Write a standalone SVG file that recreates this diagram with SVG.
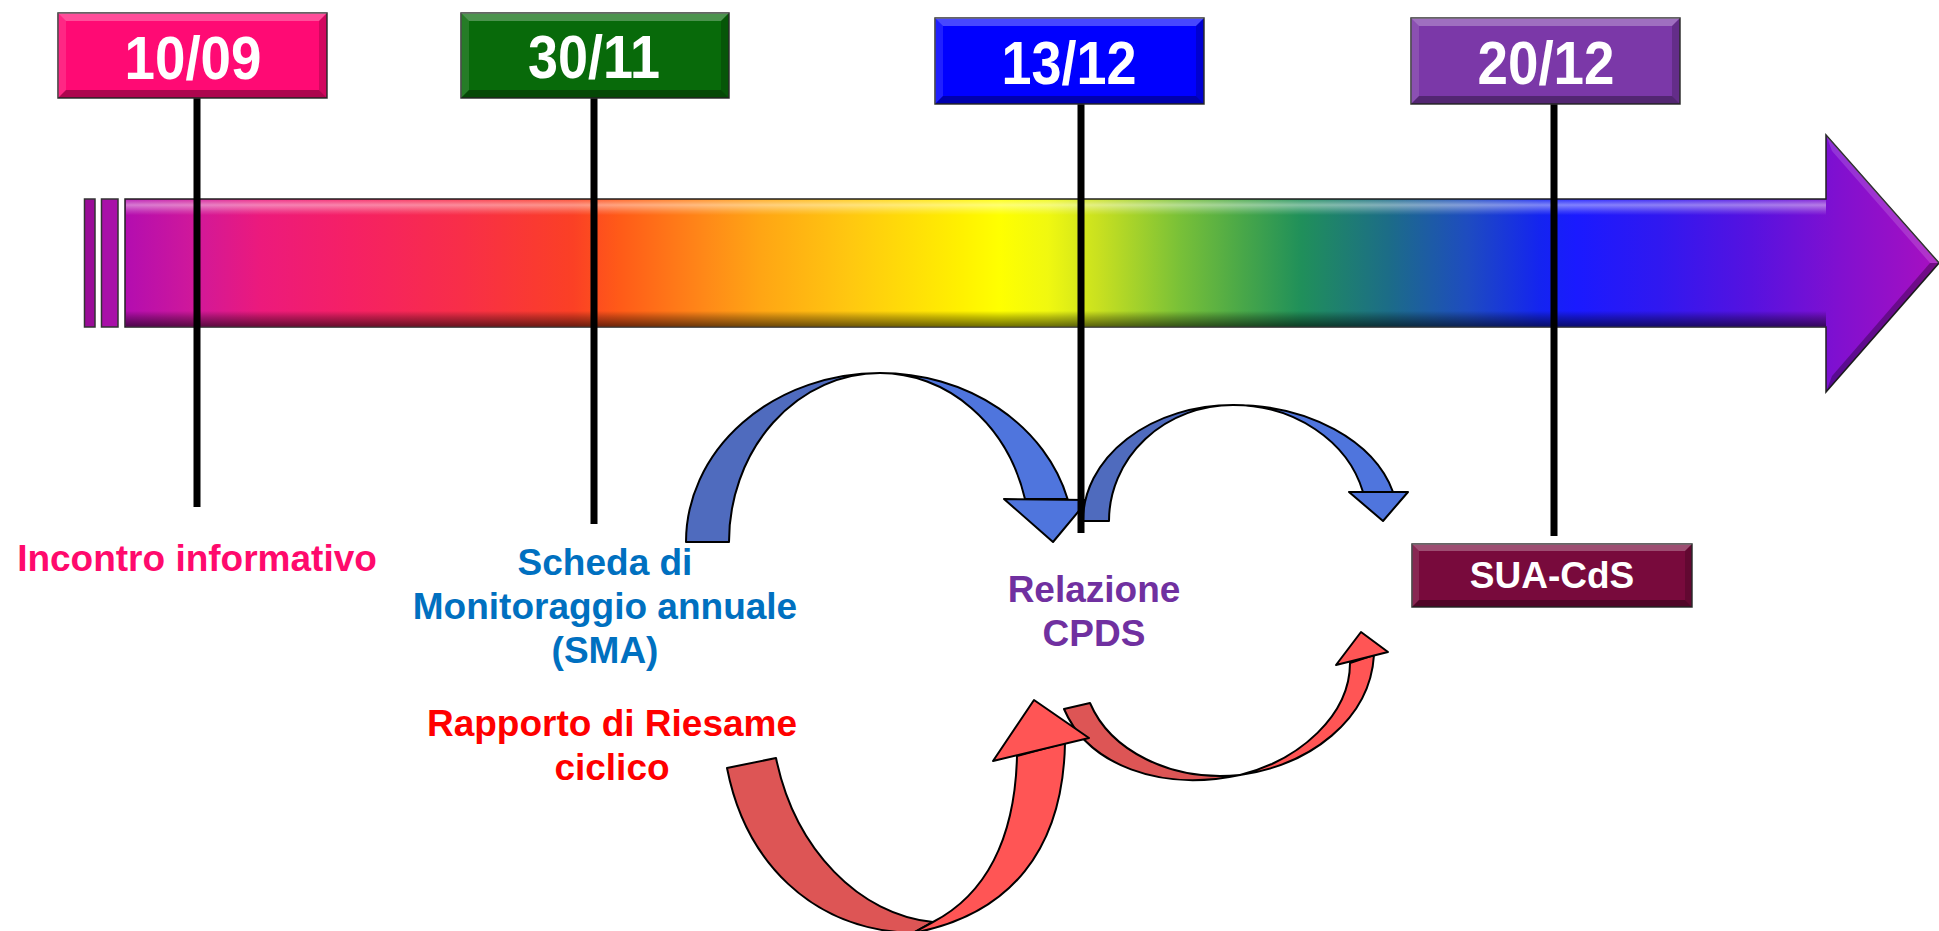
<svg xmlns="http://www.w3.org/2000/svg" width="1939" height="931" viewBox="0 0 1939 931">
<style>
.date{font-family:"Liberation Sans",Arial,sans-serif;font-weight:bold;font-size:62px;fill:#fff;text-anchor:middle}
.lbl{font-family:"Liberation Sans",Arial,sans-serif;font-weight:bold;font-size:37px;text-anchor:middle}
.vline{stroke:#000;stroke-width:7;fill:none}
.box{stroke:#333;stroke-width:1.5}
.bt{fill:#fff;fill-opacity:.28}
.bl{fill:#fff;fill-opacity:.12}
.br{fill:#000;fill-opacity:.18}
.bb{fill:#000;fill-opacity:.32}
.rib{stroke:#000;stroke-width:2;stroke-linejoin:round}
.bd{fill:#4F6BBE}
.bl2{fill:#4F75DD}
.rd{fill:#DD5555}
.rl{fill:#FF5555}
</style>
<defs>
<linearGradient id="rainbow" gradientUnits="userSpaceOnUse" x1="125" y1="0" x2="1939" y2="0">
<stop offset="0" stop-color="#B30DB0"/>
<stop offset="0.038" stop-color="#D0189A"/>
<stop offset="0.075" stop-color="#EC1A7C"/>
<stop offset="0.124" stop-color="#F52065"/>
<stop offset="0.186" stop-color="#F82E48"/>
<stop offset="0.247" stop-color="#FB4025"/>
<stop offset="0.272" stop-color="#FF5A18"/>
<stop offset="0.321" stop-color="#FF8A18"/>
<stop offset="0.35" stop-color="#FFA514"/>
<stop offset="0.40" stop-color="#FFC810"/>
<stop offset="0.46" stop-color="#FFF000"/>
<stop offset="0.482" stop-color="#FFFF00"/>
<stop offset="0.509" stop-color="#F0F810"/>
<stop offset="0.537" stop-color="#C8E020"/>
<stop offset="0.582" stop-color="#78C038"/>
<stop offset="0.615" stop-color="#4AA848"/>
<stop offset="0.648" stop-color="#20905A"/>
<stop offset="0.697" stop-color="#1C6C88"/>
<stop offset="0.74" stop-color="#1E4CC0"/>
<stop offset="0.78" stop-color="#1424F0"/>
<stop offset="0.80" stop-color="#1A1AFF"/>
<stop offset="0.846" stop-color="#3018F0"/>
<stop offset="0.895" stop-color="#5512E0"/>
<stop offset="0.944" stop-color="#8010D0"/>
<stop offset="1" stop-color="#A810C0"/>
</linearGradient>
<linearGradient id="shade" x1="0" y1="0" x2="0" y2="1">
<stop offset="0" stop-color="#fff" stop-opacity="0.15"/>
<stop offset="0.04" stop-color="#fff" stop-opacity="0.45"/>
<stop offset="0.09" stop-color="#fff" stop-opacity="0.15"/>
<stop offset="0.12" stop-color="#fff" stop-opacity="0"/>
<stop offset="0.88" stop-color="#000" stop-opacity="0"/>
<stop offset="0.93" stop-color="#000" stop-opacity="0.25"/>
<stop offset="1" stop-color="#000" stop-opacity="0.55"/>
</linearGradient>
</defs>

<g id="timeline">
<rect x="84.5" y="199" width="10.5" height="128" fill="#9A0C98" stroke="#333" stroke-width="1.5"/>
<rect x="101.5" y="199" width="16.5" height="128" fill="#A810A8" stroke="#333" stroke-width="1.5"/>
<path d="M125,199 L1826,199 L1826,135 L1939,263 L1826,392 L1826,327 L125,327 Z" fill="url(#rainbow)" stroke="#222" stroke-width="1.5"/>
<rect x="126" y="200" width="1700" height="126" fill="url(#shade)"/>
<path d="M1826,135 L1939,263 L1930,263 L1832,151 Z" fill="#fff" fill-opacity="0.15"/>
<path d="M1826,392 L1939,263 L1930,263 L1832,376 Z" fill="#000" fill-opacity="0.3"/>
</g>

<g id="connectors">
<path class="rib bd" d="M686,542 A194 169 0 0 1 880 373 A151 169 0 0 0 729 542 Z"/>
<path class="rib bl2" d="M880,373 A194 169 0 0 1 1067.6 499 L1025 499 A150 169 0 0 0 880 373 Z"/>
<path class="rib bl2" d="M1004,499 L1088,500 L1053,542 Z"/>
<path class="rib bd" d="M1083,521 A150 116 0 0 1 1233 405 A124 116 0 0 0 1109 521 Z"/>
<path class="rib bl2" d="M1233,405 A165 116 0 0 1 1393 492 L1363 492 A134 116 0 0 0 1233 405 Z"/>
<path class="rib bl2" d="M1349,492 L1408,492 L1383,521 Z"/>
<path class="rib rd" d="M1064,709 C1088,765 1160,792 1240,775 C1170,782 1110,750 1090,703 Z"/>
<path class="rib rl" d="M1240,775 C1310,765 1370,720 1374,655 L1350,663 C1350,715 1300,760 1240,775 Z"/>
<path class="rib rl" d="M1336,665 L1361,632 L1388,652 Z"/>
<path class="rib rd" d="M727,768 C745,860 810,930 913,933 L933,922 C860,915 795,850 776,758 Z"/>
<path class="rib rl" d="M913,933 C1010,915 1063,850 1065,743 L1017,756 C1015,840 985,895 933,922 Z"/>
<path class="rib rl" d="M993,761 L1034,700 L1089,738 Z"/>
<line class="vline" x1="197" y1="98" x2="197" y2="507"/>
<line class="vline" x1="594" y1="98" x2="594" y2="524"/>
<line class="vline" x1="1081" y1="104" x2="1081" y2="533"/>
<line class="vline" x1="1554" y1="104" x2="1554" y2="536"/>
</g>

<g id="d1009">
<rect class="box" x="58" y="13" width="269" height="85" fill="#FF0A74"/>
<polygon class="bt" points="58,13 327,13 319,21 66,21"/>
<polygon class="bl" points="58,13 66,21 66,90 58,98"/>
<polygon class="br" points="327,13 319,21 319,90 327,98"/>
<polygon class="bb" points="58,98 327,98 319,90 66,90"/>
<text class="date" x="193" y="79" textLength="137" lengthAdjust="spacingAndGlyphs">10/09</text>
</g>
<g id="d3011">
<rect class="box" x="461" y="13" width="268" height="85" fill="#086A0A"/>
<polygon class="bt" points="461,13 729,13 721,21 469,21"/>
<polygon class="bl" points="461,13 469,21 469,90 461,98"/>
<polygon class="br" points="729,13 721,21 721,90 729,98"/>
<polygon class="bb" points="461,98 729,98 721,90 469,90"/>
<text class="date" x="594" y="78" textLength="132" lengthAdjust="spacingAndGlyphs">30/11</text>
</g>
<g id="d1312">
<rect class="box" x="935" y="18" width="269" height="86" fill="#0000FF"/>
<polygon class="bt" points="935,18 1204,18 1196,26 943,26"/>
<polygon class="bl" points="935,18 943,26 943,96 935,104"/>
<polygon class="br" points="1204,18 1196,26 1196,96 1204,104"/>
<polygon class="bb" points="935,104 1204,104 1196,96 943,96"/>
<text class="date" x="1069" y="84" textLength="135" lengthAdjust="spacingAndGlyphs">13/12</text>
</g>
<g id="d2012">
<rect class="box" x="1411" y="18" width="269" height="86" fill="#7B38A8"/>
<polygon class="bt" points="1411,18 1680,18 1672,26 1419,26"/>
<polygon class="bl" points="1411,18 1419,26 1419,96 1411,104"/>
<polygon class="br" points="1680,18 1672,26 1672,96 1680,104"/>
<polygon class="bb" points="1411,104 1680,104 1672,96 1419,96"/>
<text class="date" x="1546" y="84" textLength="137" lengthAdjust="spacingAndGlyphs">20/12</text>
</g>

<g id="incontro">
<text class="lbl" x="197" y="571" fill="#FF0A6C">Incontro informativo</text>
</g>
<g id="sma">
<text class="lbl" fill="#0070C0"><tspan x="605" y="575">Scheda di</tspan><tspan x="605" y="619">Monitoraggio annuale</tspan><tspan x="605" y="663">(SMA)</tspan></text>
</g>
<g id="riesame">
<text class="lbl" fill="#FF0000"><tspan x="612" y="736">Rapporto di Riesame</tspan><tspan x="612" y="780">ciclico</tspan></text>
</g>
<g id="cpds">
<text class="lbl" fill="#7030A0"><tspan x="1094" y="602">Relazione</tspan><tspan x="1094" y="646">CPDS</tspan></text>
</g>
<g id="sua">
<rect class="box" x="1412" y="544" width="280" height="63" fill="#780A3C"/>
<polygon class="bt" points="1412,544 1692,544 1685,551 1419,551"/>
<polygon class="bl" points="1412,544 1419,551 1419,600 1412,607"/>
<polygon class="br" points="1692,544 1685,551 1685,600 1692,607"/>
<polygon class="bb" points="1412,607 1692,607 1685,600 1419,600"/>
<text class="lbl" x="1552" y="588" fill="#fff">SUA-CdS</text>
</g>
</svg>
